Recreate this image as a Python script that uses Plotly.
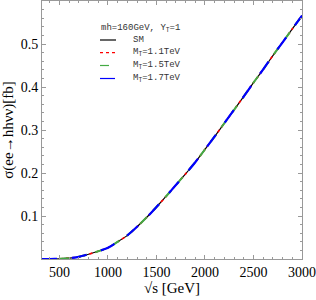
import plotly.graph_objects as go

sqrt_s = [320, 400, 500, 600, 700, 800, 900, 1000, 1100, 1200, 1300, 1400, 1500,
          1600, 1700, 1800, 1900, 2000, 2100, 2200, 2300, 2400, 2500, 2600, 2700,
          2800, 2900, 3000]
sigma_sm = [0.0, 0.0, 0.0005, 0.002, 0.005, 0.011, 0.018, 0.026, 0.040, 0.055,
            0.075, 0.097, 0.121, 0.146, 0.172, 0.198, 0.225, 0.255, 0.285, 0.316,
            0.347, 0.378, 0.410, 0.441, 0.473, 0.504, 0.535, 0.566]
sigma_11 = list(sigma_sm)
sigma_15 = list(sigma_sm)
sigma_17 = list(sigma_sm)

legend_title = "mh=160GeV, Y<sub>T</sub>=1"
legend_names = ["SM", "M<sub>T</sub>=1.1TeV", "M<sub>T</sub>=1.5TeV", "M<sub>T</sub>=1.7TeV"]
colors = ["black", "red", "#44aa44", "blue"]
dashes = ["solid", "dot", "dash", "longdash"]
widths = [1.2, 1.6, 2.0, 2.2]
all_sigma = [sigma_sm, sigma_11, sigma_15, sigma_17]

fig = go.Figure()
for name, ys, col, dash, w in zip(legend_names, all_sigma, colors, dashes, widths):
    fig.add_trace(go.Scatter(x=sqrt_s, y=ys, mode="lines", name=name,
                             line=dict(color=col, dash=dash, width=w, shape="spline", smoothing=0.6)))

axis_common = dict(showline=True, linecolor="#999999", linewidth=1, mirror="allticks",
                   ticks="inside", tickcolor="#999999", ticklen=4, showgrid=False,
                   zeroline=False, tickfont=dict(family="Liberation Serif", size=14, color="black"))

W, H = 316, 300
ml, mr, mt, mb = 42, 14, 1, 41
pw, ph = W - ml - mr, H - mt - mb

def px2paper(x, y):
    return (x - ml) / pw, 1 - (y - mt) / ph

mono = dict(family="Liberation Mono", size=9, color="#333333")
tx, ty = px2paper(99, 29)
fig.add_annotation(xref="paper", yref="paper", x=tx, y=ty, text=legend_title,
                   showarrow=False, xanchor="left", yanchor="middle", font=mono)
row_y = [40, 52.7, 65.5, 78.5]
for name, col, dash, w, ry in zip(legend_names, colors, dashes, widths, row_y):
    x0, yy = px2paper(100, ry)
    x1, _ = px2paper(116, ry)
    fig.add_shape(type="line", xref="paper", yref="paper", x0=x0, x1=x1, y0=yy, y1=yy,
                  line=dict(color=col, dash=dash, width=min(w, 1.2)))
    lx, _ = px2paper(131, ry)
    fig.add_annotation(xref="paper", yref="paper", x=lx, y=yy, text=name,
                       showarrow=False, xanchor="left", yanchor="middle", font=mono)

fig.update_layout(
    width=W, height=H,
    margin=dict(l=ml, r=mr, t=mt, b=mb),
    paper_bgcolor="white", plot_bgcolor="white",
    showlegend=False,
    xaxis=dict(range=[320, 3000], tickvals=[500, 1000, 1500, 2000, 2500, 3000],
               minor=dict(dtick=100, tick0=0, ticks="inside", ticklen=2, tickcolor="#999999"),
               title=dict(text="√s [GeV]", font=dict(family="Liberation Serif", size=15, color="black"), standoff=3),
               **axis_common),
    yaxis=dict(range=[0, 0.6], tickvals=[0.1, 0.2, 0.3, 0.4, 0.5],
               minor=dict(dtick=0.02, tick0=0, ticks="inside", ticklen=2, tickcolor="#999999"),
               title=dict(text="σ(ee→hhνν)[fb]", font=dict(family="Liberation Serif", size=15, color="black"), standoff=4),
               **axis_common),
)

fig.write_html("out.html", config={"displayModeBar": False},
               post_script="document.body.style.margin='0';")
